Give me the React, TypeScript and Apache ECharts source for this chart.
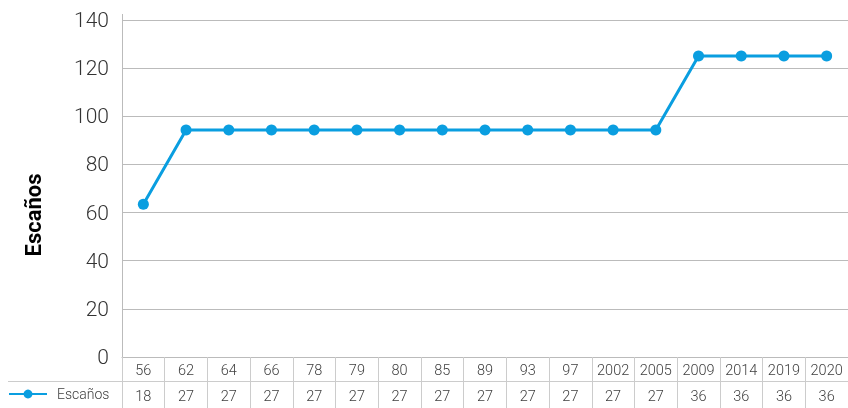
import React, { useEffect, useRef } from "react";
import * as echarts from "echarts";

const categories = ["56", "62", "64", "66", "78", "79", "80", "85", "89", "93", "97", "2002", "2005", "2009", "2014", "2019", "2020"];
const seatLabels = ["18", "27", "27", "27", "27", "27", "27", "27", "27", "27", "27", "27", "27", "36", "36", "36", "36"];
const plotted = [63.5, 94.3, 94.3, 94.3, 94.3, 94.3, 94.3, 94.3, 94.3, 94.3, 94.3, 94.3, 94.3, 125, 125, 125, 125];
const seriesName = "Escaños";
const yAxisTitle = "Escaños";
const yTicks = { min: 0, max: 140, interval: 20 };

export default function App() {
  const ref = useRef<HTMLDivElement>(null);
  useEffect(() => {
    if (!ref.current) return;
    const chart = echarts.init(ref.current, null, { renderer: "svg" });
    const font = "Roboto, 'Noto Sans', sans-serif";
    chart.setOption({
      animation: false,
      grid: { left: 122, right: 0, top: 20, bottom: 51, containLabel: false },
      legend: {
        data: [seriesName],
        left: 8,
        top: 387,
        padding: 0,
        itemWidth: 38,
        itemHeight: 11,
        itemGap: 10,
        textStyle: { fontFamily: font, fontSize: 14, fontWeight: 300, color: "#404040", padding: [0, 0, 0, 5] },
      },
      xAxis: [
        {
          type: "category",
          data: categories,
          boundaryGap: true,
          axisLine: { show: true, lineStyle: { color: "#bbbbbb", width: 1 } },
          axisTick: { show: true, interval: 0, length: 51, lineStyle: { color: "#cccccc" } },
          axisLabel: { interval: 0, margin: 6, fontFamily: font, fontSize: 14.5, fontWeight: 300, color: "#404040" },
          splitLine: { show: false },
        },
        {
          type: "category",
          data: seatLabels,
          position: "bottom",
          boundaryGap: true,
          axisLine: { show: false },
          axisTick: { show: false },
          axisLabel: { interval: 0, margin: 32, fontFamily: font, fontSize: 14.5, fontWeight: 300, color: "#404040" },
          splitLine: { show: false },
        },
      ],
      yAxis: {
        type: "value",
        min: yTicks.min,
        max: yTicks.max,
        interval: yTicks.interval,
        axisLine: { show: true, lineStyle: { color: "#bbbbbb", width: 1 } },
        axisTick: { show: false },
        axisLabel: { margin: 13, fontFamily: font, fontSize: 21, fontWeight: 300, color: "#333333" },
        splitLine: { show: true, lineStyle: { color: "#bbbbbb", width: 1 } },
      },
      graphic: [
        {
          type: "line",
          shape: { x1: 8, y1: 381.5, x2: 848, y2: 381.5 },
          style: { stroke: "#cccccc", lineWidth: 1 },
        },
        {
          type: "line",
          shape: { x1: 122.5, y1: 14, x2: 122.5, y2: 20 },
          style: { stroke: "#bbbbbb", lineWidth: 1 },
        },
        {
          type: "text",
          x: 33,
          y: 215,
          rotation: Math.PI / 2,
          style: {
            text: yAxisTitle,
            fontFamily: "Roboto, 'Liberation Sans', sans-serif",
            fontWeight: "bold",
            fontSize: 22,
            fill: "#000",
            textAlign: "center",
            textVerticalAlign: "middle",
          },
        },
      ],
      series: [
        {
          name: seriesName,
          type: "line",
          xAxisIndex: 0,
          data: plotted,
          symbol: "circle",
          symbolSize: 11,
          lineStyle: { color: "#0a9ee0", width: 3 },
          itemStyle: { color: "#0a9ee0" },
        },
      ],
    });
    return () => chart.dispose();
  }, []);
  return <div ref={ref} style={{ position: "fixed", left: 0, top: 0, width: 848, height: 408 }} />;
}
